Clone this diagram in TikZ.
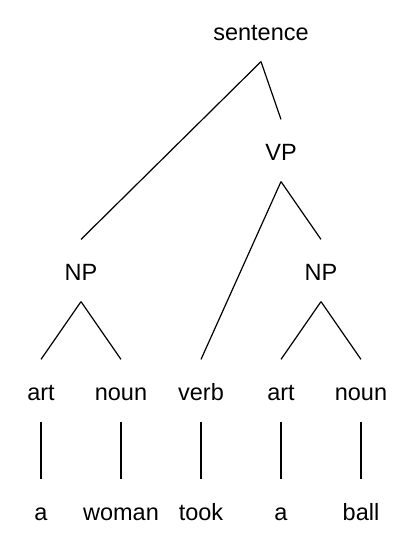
\documentclass[tikz,border=0pt]{standalone}
\usepackage{fontspec}
\setmainfont{Liberation Sans}
\tikzset{
	word/.style = {
			anchor     = base,
			inner sep  = 0pt,
			text height = 40pt,
			text depth  = 21pt,
			font = \fontsize{23.5}{28}\selectfont,
		}
}

\begin{document}
\begin{tikzpicture}[x=40pt,y=-40pt,line width=1.2pt]
        \useasboundingbox (-0.025,0) rectangle (10.025,13.55);
        \node[word] at (6.5,1) (a) {sentence};
        \node[word] at (7,4) (b) {VP};
        \node[word] at (2,7) (c) {NP};
        \node[word] at (8,7) (d) {NP};
        \node[word] at (1,10) (e) {art};
        \node[word] at (3,10) (f) {noun};
        \node[word] at (5,10) (g) {verb};
        \node[word] at (7,10) (h) {art};
        \node[word] at (9,10) (i) {noun};
        \node[word] at (1,13) (j) {a};
        \node[word] at (3,13) (k) {woman};
        \node[word] at (5,13) (l) {took};
        \node[word] at (7,13) (m) {a};
        \node[word] at (9,13) (n) {ball};
        \draw (a.south) -- (c.north);
        \draw (a.south) -- (b.north);
        \draw (b.south) -- (g.north);
        \draw (b.south) -- (d.north);
        \draw (c.south) -- (e.north);
        \draw (c.south) -- (f.north);
        \draw (d.south) -- (h.north);
        \draw (d.south) -- (i.north);
        \draw (e.south) -- (j.north);
        \draw (f.south) -- (k.north);
        \draw (g.south) -- (l.north);
        \draw (h.south) -- (m.north);
        \draw (i.south) -- (n.north);
      \end{tikzpicture}
\end{document}
